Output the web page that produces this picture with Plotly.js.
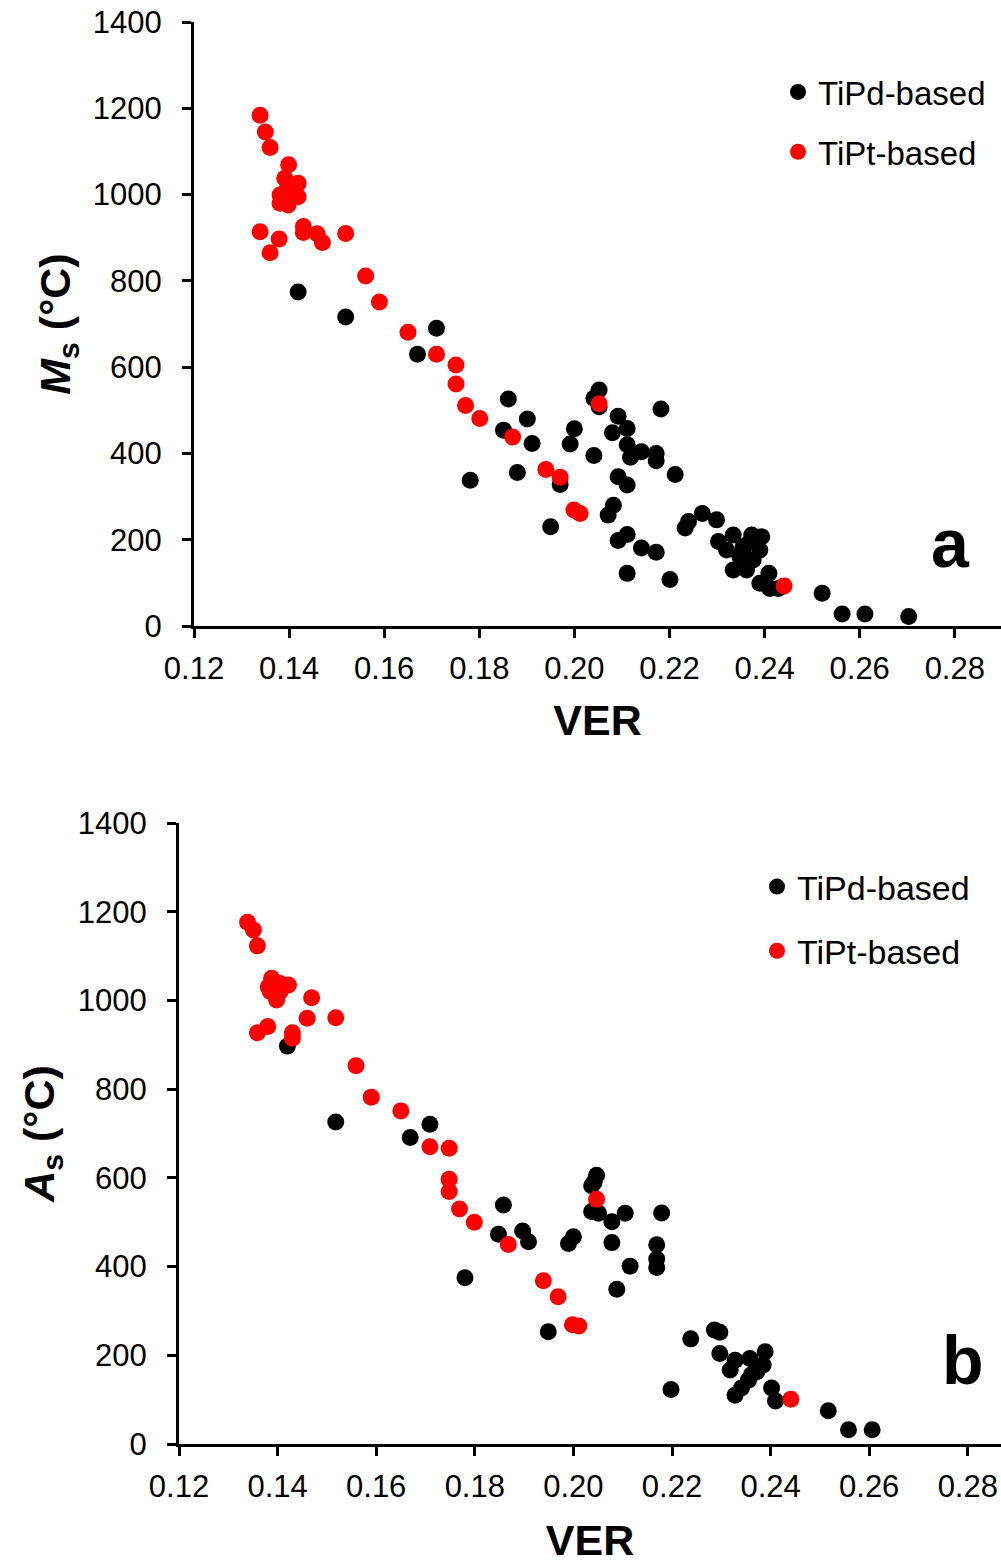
<!DOCTYPE html>
<html>
<head>
<meta charset="utf-8">
<script src="https://cdn.plot.ly/plotly-3.0.1.min.js"></script>
<style>html,body{margin:0;padding:0;background:#fff;}#chart{width:1001px;height:1564px;}</style>
</head>
<body>
<div id="chart"></div>
<script>
// (a) Ms vs VER
const msPdVER = [0.1419,0.1519,0.1670,0.1710,0.1781,0.1851,0.1861,0.1880,0.1901,0.1911,0.1950,0.1970,0.1991,0.2000,0.2041,0.2041,0.2052,0.2052,0.2071,0.2082,0.2080,0.2092,0.2092,0.2111,0.2111,0.2111,0.2118,0.2141,0.2172,0.2172,0.2182,0.2212,0.2092,0.2111,0.2141,0.2172,0.2111,0.2201,0.2233,0.2240,0.2269,0.2299,0.2303,0.2334,0.2373,0.2394,0.2390,0.2355,0.2348,0.2320,0.2376,0.2334,0.2362,0.2409,0.2390,0.2411,0.2429,0.2521,0.2563,0.2611,0.2703,0.2355,0.2369,0.2362];
const msPdMs  = [774,716,630,690,338,454,526,356,480,423,230,328,422,457,395,528,547,508,257,280,448,486,346,458,420,327,391,404,400,383,503,351,198,212,181,171,122,108,227,242,261,246,196,211,211,207,176,169,161,176,153,130,138,122,99,87,87,76,28,28,22,184,195,130];
const msPtVER = [0.1339,0.1350,0.1360,0.1399,0.1391,0.1419,0.1395,0.1381,0.1419,0.1381,0.1398,0.1390,0.1339,0.1379,0.1360,0.1430,0.1430,0.1459,0.1470,0.1519,0.1561,0.1590,0.1650,0.1710,0.1751,0.1751,0.1771,0.1801,0.1870,0.1940,0.1970,0.1999,0.2012,0.2052,0.2441];
const msPtMs  = [1184,1145,1109,1069,1038,1026,1011,999,995,980,976,990,914,897,865,926,912,909,889,910,811,751,681,630,605,561,511,481,438,363,345,269,261,515,93];

// (b) As vs VER
const asPdVER = [0.1420,0.1518,0.1669,0.1709,0.1780,0.1848,0.1858,0.1897,0.1909,0.1949,0.1990,0.2000,0.2037,0.2047,0.2042,0.2037,0.2051,0.2078,0.2078,0.2088,0.2105,0.2115,0.2169,0.2169,0.2169,0.2179,0.2198,0.2238,0.2286,0.2297,0.2297,0.2318,0.2328,0.2328,0.2341,0.2355,0.2358,0.2372,0.2385,0.2389,0.2361,0.2402,0.2410,0.2517,0.2558,0.2606];
const asPdAs  = [897,726,691,721,375,473,539,480,456,253,452,467,582,606,590,524,520,501,454,349,520,401,449,417,398,521,123,237,257,252,204,167,189,110,126,144,193,163,178,208,156,126,97,75,32,32];
const asPtVER = [0.1339,0.1351,0.1359,0.1388,0.1381,0.1405,0.1422,0.1398,0.1385,0.1405,0.1469,0.1460,0.1518,0.1359,0.1380,0.1430,0.1430,0.1559,0.1590,0.1650,0.1709,0.1748,0.1748,0.1748,0.1769,0.1799,0.1868,0.1939,0.1969,0.1998,0.2011,0.2047,0.2441];
const asPtAs  = [1176,1159,1123,1050,1031,1038,1035,1001,1020,1020,1006,960,961,927,941,927,915,853,782,751,670,667,597,569,530,500,450,368,332,269,266,552,101];

const seriesNames = ['TiPd-based','TiPt-based'];
const xTicks = [0.12,0.14,0.16,0.18,0.20,0.22,0.24,0.26,0.28];
const yTicks = [0,200,400,600,800,1000,1200,1400];

const W = 1001, H = 1564;
const FONT = 'Liberation Sans, Arial, sans-serif';
const mk = (c) => ({color: c, size: 17, line: {width: 0}});

const traces = [
  {x: msPdVER, y: msPdMs, name: seriesNames[0], type: 'scatter', mode: 'markers', marker: mk('#000000'), xaxis: 'x', yaxis: 'y', legend: 'legend', legendgroup: 'a1'},
  {x: msPtVER, y: msPtMs, name: seriesNames[1], type: 'scatter', mode: 'markers', marker: mk('#ff0000'), xaxis: 'x', yaxis: 'y', legend: 'legend', legendgroup: 'a2'},
  {x: asPdVER, y: asPdAs, name: seriesNames[0], type: 'scatter', mode: 'markers', marker: mk('#000000'), xaxis: 'x2', yaxis: 'y2', legend: 'legend2', legendgroup: 'b1'},
  {x: asPtVER, y: asPtAs, name: seriesNames[1], type: 'scatter', mode: 'markers', marker: mk('#ff0000'), xaxis: 'x2', yaxis: 'y2', legend: 'legend2', legendgroup: 'b2'}
];

const axCommon = {
  showline: true, linecolor: '#000', linewidth: 3, mirror: false,
  ticks: 'outside', ticklen: 9, tickwidth: 3, tickcolor: '#000',
  showgrid: false, zeroline: false,
  tickfont: {family: FONT, size: 31, color: '#000'}
};

const xAx = (domain, range, anchor, standoff) => Object.assign({}, axCommon, {
  domain: domain, range: range, anchor: anchor,
  tickmode: 'array', tickvals: xTicks, ticktext: xTicks.map(v => v.toFixed(2)),
  ticklabelstandoff: 4,
  title: {text: '<b>VER</b>', font: {family: FONT, size: 43, color: '#000'}, standoff: standoff}
});
const yAx = (domain, anchor, title, standoff) => Object.assign({}, axCommon, {
  domain: domain, range: [0, 1400], anchor: anchor,
  tickmode: 'array', tickvals: yTicks,
  ticklabelstandoff: 14,
  title: {text: title, font: {family: FONT, size: 43, color: '#000'}, standoff: standoff}
});

const layout = {
  width: W, height: H,
  margin: {l: 0, r: 0, t: 0, b: 0},
  paper_bgcolor: '#fff', plot_bgcolor: '#fff',
  font: {family: FONT, color: '#000'},
  xaxis: xAx([194 / W, 1], [0.12, 0.12 + (W - 194) / 4755], 'y', 20),
  yaxis: yAx([1 - 626 / H, 1 - 22 / H], 'x', '<b><i>M</i><sub>s</sub> (°C)</b>', 9),
  xaxis2: xAx([179 / W, 1], [0.12, 0.12 + (W - 179) / 4930], 'y2', 22),
  yaxis2: yAx([1 - 1444 / H, 1 - 823 / H], 'x2', '<b><i>A</i><sub>s</sub> (°C)</b>', 10),
  legend: {x: 778 / W, y: 1 - 64 / H, xanchor: 'left', yanchor: 'top', bgcolor: 'rgba(0,0,0,0)',
           font: {family: FONT, size: 33, color: '#000'}, tracegroupgap: 14, traceorder: 'grouped'},
  legend2: {x: 757 / W, y: 1 - 858 / H, xanchor: 'left', yanchor: 'top', bgcolor: 'rgba(0,0,0,0)',
           font: {family: FONT, size: 34, color: '#000'}, tracegroupgap: 17, traceorder: 'grouped'},
  showlegend: true,
  annotations: [
    {text: '<b>a</b>', xref: 'paper', yref: 'paper', x: 950 / W, y: 1 - 543 / H, xanchor: 'center', yanchor: 'middle', showarrow: false, font: {family: FONT, size: 68, color: '#000'}},
    {text: '<b>b</b>', xref: 'paper', yref: 'paper', x: 963 / W, y: 1 - 1360 / H, xanchor: 'center', yanchor: 'middle', showarrow: false, font: {family: FONT, size: 68, color: '#000'}}
  ]
};

Plotly.newPlot('chart', traces, layout, {staticPlot: true, displayModeBar: false});
</script>
</body>
</html>
